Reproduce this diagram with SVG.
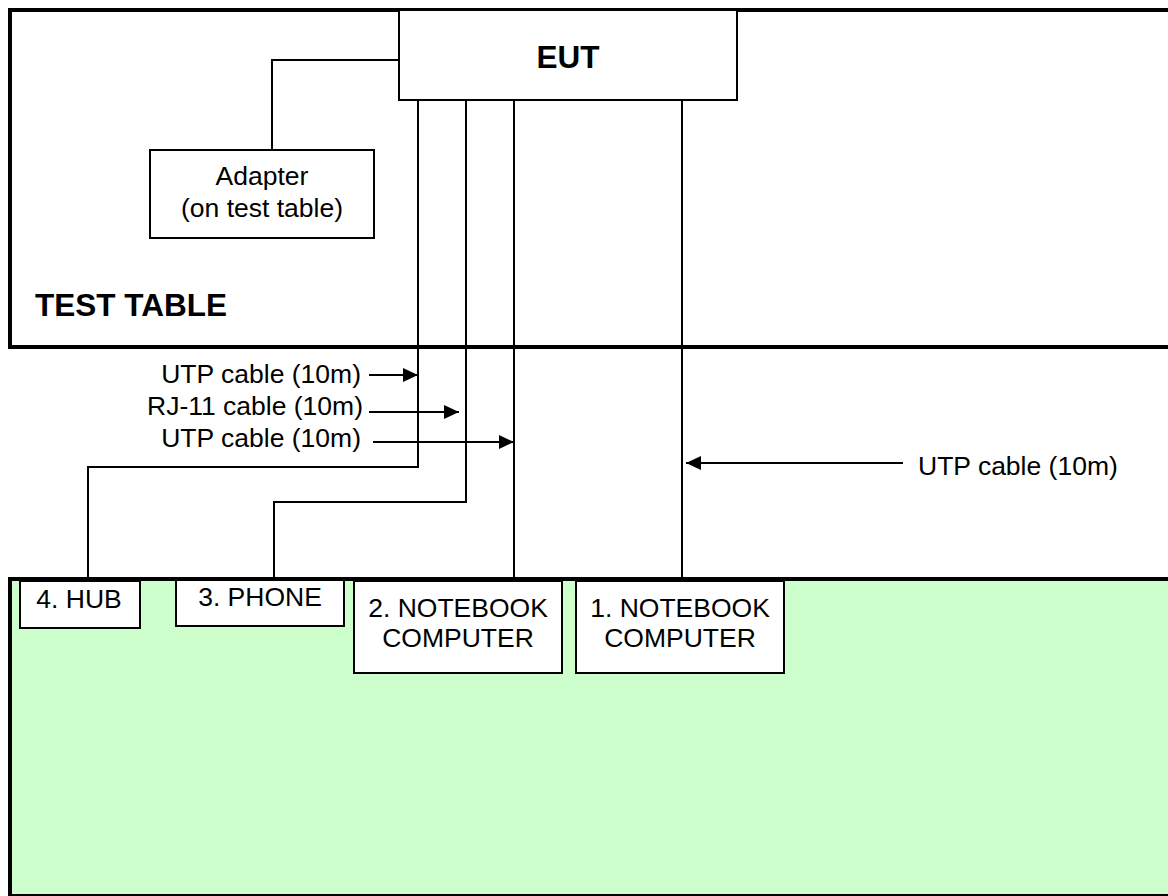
<svg xmlns="http://www.w3.org/2000/svg" width="1168" height="896" viewBox="0 0 1168 896">
<style>
  .area { stroke:#000; stroke-width:4; }
  .box { fill:#fff; stroke:#000; stroke-width:2; }
  .wire { fill:none; stroke:#000; stroke-width:2; }
  .t { font-family:"Liberation Sans", Arial, sans-serif; font-size:26.5px; fill:#000; }
  .b { font-family:"Liberation Sans", Arial, sans-serif; font-size:31.5px; font-weight:bold; fill:#000; }
  .c { text-anchor:middle; }
  .e { text-anchor:end; }
</style>
<defs>
  <marker id="ah" markerUnits="userSpaceOnUse" markerWidth="16" markerHeight="14" refX="15" refY="7" orient="auto">
    <path d="M0,0 L15,7 L0,14 Z" fill="#000"/>
  </marker>
</defs>
<g id="test-table">
  <rect class="area" x="10" y="10" width="1170" height="337" fill="#fff"/>
  <text class="b" x="35" y="316">TEST TABLE</text>
</g>
<g id="floor">
  <rect class="area" x="10" y="579" width="1170" height="317" fill="#ccffcc"/>
</g>
<g id="connectors">
  <path class="wire" d="M272,150 V60 H399"/>
  <path class="wire" d="M418,100 V467 H88 V581"/>
  <path class="wire" d="M466,100 V502 H274 V580"/>
  <path class="wire" d="M514,100 V581"/>
  <path class="wire" d="M682,100 V581"/>
  <line class="wire" x1="369" y1="375" x2="418" y2="375" marker-end="url(#ah)"/>
  <line class="wire" x1="369" y1="412" x2="459" y2="412" marker-end="url(#ah)"/>
  <line class="wire" x1="373" y1="442" x2="514" y2="442" marker-end="url(#ah)"/>
  <line class="wire" x1="903" y1="463" x2="686" y2="463" marker-end="url(#ah)"/>
  <text class="t e" x="361" y="383">UTP cable (10m)</text>
  <text class="t e" x="363" y="415">RJ-11 cable (10m)</text>
  <text class="t e" x="361" y="447">UTP cable (10m)</text>
  <text class="t" x="918" y="475">UTP cable (10m)</text>
</g>
<g id="eut">
  <rect class="box" x="399" y="10" width="338" height="90"/>
  <text class="b c" x="568" y="68">EUT</text>
</g>
<g id="adapter">
  <rect class="box" x="150" y="150" width="224" height="88"/>
  <text class="t c" x="262" y="185">Adapter</text>
  <text class="t c" x="262" y="217">(on test table)</text>
</g>
<g id="hub">
  <rect class="box" x="20" y="581" width="120" height="47"/>
  <text class="t c" x="79" y="608">4. HUB</text>
</g>
<g id="phone">
  <rect class="box" x="176" y="580" width="168" height="46"/>
  <text class="t c" x="260" y="606">3. PHONE</text>
</g>
<g id="notebook2">
  <rect class="box" x="354" y="581" width="208" height="92"/>
  <text class="t c" x="458" y="617">2. NOTEBOOK</text>
  <text class="t c" x="458" y="647">COMPUTER</text>
</g>
<g id="notebook1">
  <rect class="box" x="576" y="581" width="208" height="92"/>
  <text class="t c" x="680" y="617">1. NOTEBOOK</text>
  <text class="t c" x="680" y="647">COMPUTER</text>
</g>
</svg>
